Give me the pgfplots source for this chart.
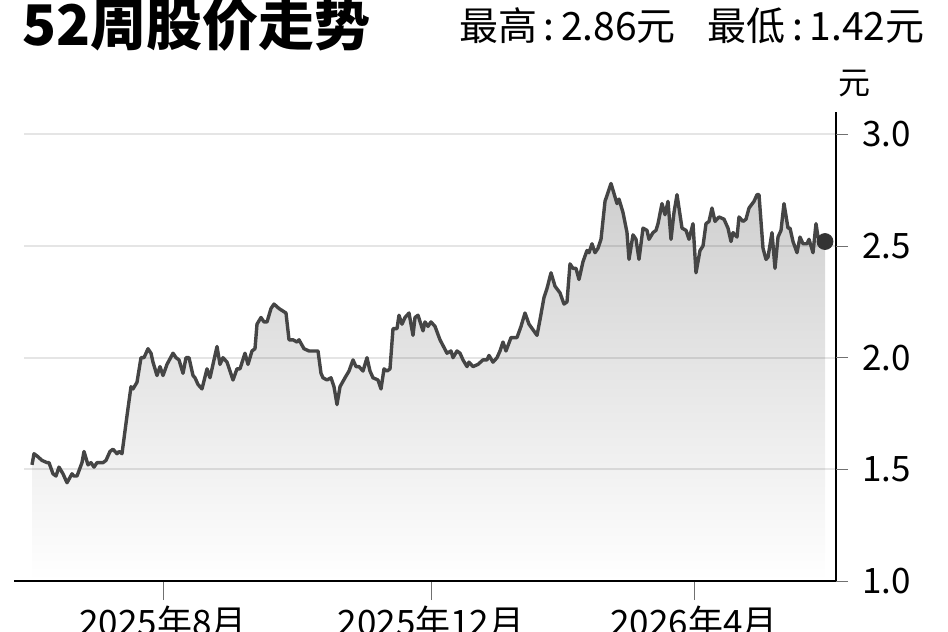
\documentclass[border=0pt]{standalone}
\usepackage{fontspec}
\setmainfont{Noto Sans CJK SC}
\usepackage{pgfplots}
\usepackage{pgfplotstable}
\pgfplotsset{compat=1.18}

\definecolor{linegray}{HTML}{454545}
\definecolor{tickgray}{HTML}{707070}

% x: position along the 52-week time axis, y: price in yuan
\pgfplotstableread{
x y
32 1.52
34 1.57
37 1.56
42 1.54
47 1.53
49 1.53
53 1.48
56 1.47
59 1.51
63 1.48
67 1.44
72 1.48
74 1.47
77 1.47
82 1.53
84 1.58
88 1.52
91 1.53
94 1.51
97 1.53
103 1.53
106 1.54
110 1.58
113 1.59
117 1.57
119 1.58
122 1.57
127 1.74
131 1.87
133 1.86
137 1.89
141 2.00
144 2.00
148 2.04
151 2.02
153 1.98
157 1.92
160 1.96
163 1.92
167 1.97
173 2.02
176 2.00
179 1.99
183 1.93
186 2.00
189 2.00
193 1.92
195 1.91
198 1.88
202 1.86
207 1.95
210 1.91
217 2.05
220 1.97
223 2.00
227 1.98
233 1.90
237 1.95
240 1.95
245 2.02
248 1.97
252 2.03
255 2.04
257 2.15
261 2.18
264 2.16
267 2.16
271 2.22
274 2.24
279 2.22
286 2.20
289 2.08
293 2.08
297 2.07
299 2.08
304 2.04
309 2.03
318 2.03
321 1.93
323 1.91
327 1.90
331 1.91
334 1.87
337 1.79
340 1.87
345 1.91
349 1.94
353 1.99
356 1.96
359 1.96
363 1.94
367 2.00
370 1.94
373 1.91
378 1.90
381 1.86
384 1.95
387 1.94
390 1.95
393 2.13
397 2.13
399 2.19
402 2.15
405 2.18
409 2.20
413 2.10
415 2.18
418 2.19
423 2.12
425 2.16
428 2.14
431 2.16
435 2.14
440 2.08
447 2.02
451 2.03
453 2.00
457 2.03
460 2.02
463 1.99
467 1.96
469 1.98
473 1.96
478 1.97
483 1.99
487 1.99
489 2.01
493 1.98
497 2.00
500 2.03
503 2.07
506 2.03
511 2.09
514 2.09
517 2.09
521 2.14
525 2.20
529 2.15
537 2.10
540 2.17
544 2.27
547 2.31
551 2.38
555 2.32
560 2.29
564 2.24
567 2.25
570 2.42
573 2.40
576 2.40
579 2.35
583 2.43
587 2.48
589 2.47
592 2.51
595 2.47
598 2.49
601 2.53
605 2.70
611 2.78
617 2.69
619 2.71
623 2.65
627 2.56
629 2.44
633 2.55
636 2.53
639 2.44
643 2.58
647 2.57
649 2.53
653 2.56
656 2.57
658 2.60
662 2.69
665 2.64
668 2.70
671 2.53
674 2.65
677 2.73
682 2.58
686 2.57
689 2.53
693 2.60
696 2.38
700 2.48
703 2.50
706 2.60
709 2.61
712 2.67
715 2.61
719 2.63
724 2.62
728 2.58
731 2.52
733 2.56
737 2.54
739 2.63
743 2.61
746 2.62
749 2.67
754 2.70
757 2.73
759 2.73
763 2.49
766 2.44
768 2.45
772 2.56
775 2.40
778 2.54
781 2.57
784 2.69
788 2.58
790 2.58
793 2.52
797 2.47
800 2.54
803 2.51
807 2.51
809 2.53
813 2.47
816 2.60
818 2.54
821 2.52
825 2.52
}\prices

\begin{document}
\begin{tikzpicture}
\begin{axis}[
  at={(0,0)}, anchor=south west,
  scale only axis, width=411pt, height=234.5pt,
  xmin=14, xmax=836, ymin=1, ymax=3.1,
  axis on top,
  axis x line*=bottom, axis y line*=right,
  axis line style={-, black, line width=0.7pt},
  tick align=outside,
  major tick length=9.5pt,
  tick style={tickgray, line width=0.5pt},
  xtick={163,431,694},
  xticklabels={2025年8月,2025年12月,2026年4月},
  ytick=\empty,
  extra y ticks={1,1.5,2,2.5,3},
  extra y tick labels={1.0,1.5,2.0,2.5,3.0},
  extra y tick style={major tick length=6pt},
  tick label style={font=\fontsize{17.5}{20}\selectfont, inner sep=0pt},
  xticklabel style={anchor=north, yshift=-3pt},
  yticklabel style={anchor=west, xshift=7pt},
  clip=false,
]
\addplot[draw=none, top color=black!19, bottom color=white] table {\prices} \closedcycle;
\draw[black, opacity=0.1, line width=1pt] (axis cs:24,1.5) -- (axis cs:836,1.5);
\draw[black, opacity=0.1, line width=1pt] (axis cs:24,2) -- (axis cs:836,2);
\draw[black, opacity=0.1, line width=1pt] (axis cs:24,2.5) -- (axis cs:836,2.5);
\draw[black, opacity=0.1, line width=1pt] (axis cs:24,3) -- (axis cs:836,3);
\addplot[linegray, line width=1.7pt, line join=round] table {\prices};
\addplot[only marks, mark=*, mark size=4pt, color=black!80] coordinates {(825,2.52)};
\end{axis}
\node[anchor=base west, inner sep=0pt, font=\fontsize{28}{28}\selectfont\bfseries] at (4pt,267.5pt) {52周股价走势};
\node[anchor=base east, inner sep=0pt, font=\fontsize{19.5}{19.5}\selectfont] at (455.5pt,270pt) {最高\,:\,2.86元\hspace{16pt}最低\,:\,1.42元};
\node[anchor=base, inner sep=0pt, font=\fontsize{16}{16}\selectfont] at (420pt,243pt) {元};
\pgfresetboundingbox
\path[use as bounding box] (-7pt,-25.5pt) rectangle (467pt,290.5pt);
\end{tikzpicture}
\end{document}
